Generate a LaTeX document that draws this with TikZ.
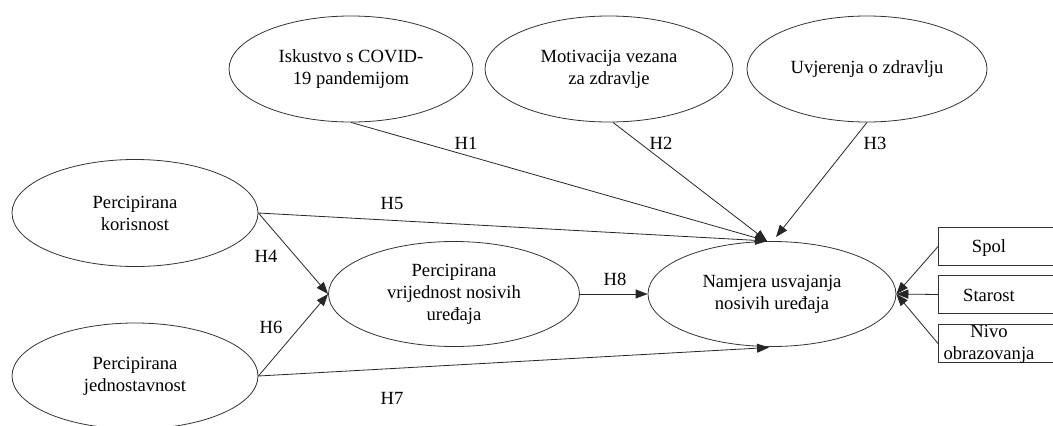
\documentclass[tikz,border=0pt]{standalone}
\usepackage{fontspec}
\setmainfont{Liberation Serif}
\usetikzlibrary{shapes.geometric,arrows.meta}
\begin{document}
\begin{tikzpicture}[x=1pt,y=-1pt,
  every node/.style={font=\fontsize{18.6}{22}\selectfont},
  oval/.style={ellipse,draw=black!80,line width=0.8pt,inner sep=0pt,align=center},
  box/.style={draw=black!80,line width=0.8pt,inner sep=0pt,minimum width=130pt,minimum height=38pt,anchor=west},
  conn/.style={line width=0.8pt,draw=black!85,-{Triangle[length=12pt,width=9pt]}},
  hlab/.style={inner sep=1pt}]
\useasboundingbox (0,0) rectangle (1053,426);
\clip (0,0) rectangle (1053,426);
% ellipses
\node[oval,minimum width=244pt,minimum height=106pt] (cov) at (351,69) {Iskustvo s COVID-\\19 pandemijom};
\node[oval,minimum width=248pt,minimum height=106pt] (mot) at (609,69) {Motivacija vezana\\za zdravlje};
\node[oval,minimum width=240pt,minimum height=106pt] (uvj) at (867,69) {Uvjerenja o zdravlju};
\node[oval,minimum width=246pt,minimum height=107pt] (kor) at (135,213) {Percipirana\\korisnost};
\node[oval,minimum width=246pt,minimum height=106pt] (jed) at (135,376) {Percipirana\\jednostavnost};
\node[oval,minimum width=251pt,minimum height=105pt] (vri) at (454,294) {Percipirana\\vrijednost nosivih\\uređaja};
\node[oval,minimum width=248pt,minimum height=105pt] (nam) at (772,294) {Namjera usvajanja\\nosivih uređaja};
% boxes
\node[box] (spolb) at (938,246.5) {};
\node[box] (starb) at (938,294.5) {};
\node[box] (nivob) at (938,343.5) {};
\node (spol) at (989,248) {Spol};
\node (star) at (989,295) {Starost};
\node[align=center] (nivo) at (989,344) {Nivo\\obrazovanja};
% target coordinates
\coordinate (t1) at (767,241);
\coordinate (t3) at (776,237);
\coordinate (t7) at (769,347.5);
% connectors
\draw[conn] (cov.south) -- (t1);
\draw[conn] ([xshift=4pt]mot.south) -- (t1);
\draw[conn] (uvj.south) -- (t3);
\draw[conn] (kor.east) -- (t1);
\draw[conn] (kor.east) -- (vri.west);
\draw[conn] (jed.east) -- (vri.west);
\draw[conn] (jed.east) -- (t7);
\draw[conn] (vri.east) -- (nam.west);
\draw[conn] (spolb.west) -- (nam.east);
\draw[conn] (starb.west) -- (nam.east);
\draw[conn] (nivob.west) -- (nam.east);
% labels
\node[hlab] (h1) at (466,143) {H1};
\node[hlab] (h2) at (661,143) {H2};
\node[hlab] (h3) at (875,143) {H3};
\node[hlab] (h5) at (392,203) {H5};
\node[hlab] (h4) at (266,256) {H4};
\node[hlab] (h6) at (271,327) {H6};
\node[hlab] (h7) at (392,398) {H7};
\node[hlab] (h8) at (615,279) {H8};
\end{tikzpicture}
\end{document}
